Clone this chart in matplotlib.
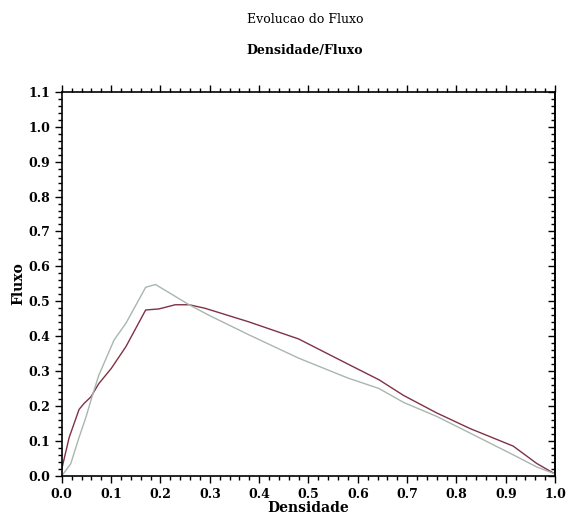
#!/usr/bin/env python3
"""Densidade x Fluxo - recreated from a scanned plot"""

import matplotlib
matplotlib.use('Agg')
import matplotlib.pyplot as plt
from matplotlib.ticker import MultipleLocator, FormatStrFormatter

# values
dens_red = [0.0, 0.015, 0.035, 0.045, 0.059, 0.075, 0.10, 0.13, 0.17, 0.197,
            0.23, 0.258, 0.29, 0.379, 0.48, 0.58, 0.643, 0.693, 0.76, 0.828,
            0.915, 0.963, 1.0]
fluxo_red = [0.02, 0.11, 0.19, 0.207, 0.226, 0.264, 0.307, 0.37, 0.475, 0.478,
             0.49, 0.49, 0.48, 0.441, 0.392, 0.32, 0.275, 0.23, 0.18, 0.135,
             0.085, 0.035, 0.005]

dens_gray = [0.0, 0.018, 0.035, 0.049, 0.062, 0.075, 0.106, 0.13, 0.17, 0.19,
             0.258, 0.298, 0.379, 0.48, 0.58, 0.643, 0.693, 0.76, 0.828,
             0.915, 0.963, 1.0]
fluxo_gray = [0.0, 0.034, 0.11, 0.168, 0.23, 0.288, 0.389, 0.437, 0.54, 0.548,
              0.49, 0.46, 0.404, 0.337, 0.28, 0.25, 0.21, 0.17, 0.122,
              0.06, 0.025, 0.005]

FONT = 'DejaVu Serif'

fig = plt.figure(figsize=(5.67, 5.16), dpi=100)
ax = fig.add_axes([0.109, 0.078, 0.870, 0.744])

ax.plot(dens_red, fluxo_red, color='#7e3246', lw=1.0)
ax.plot(dens_gray, fluxo_gray, color='#a9b6b0', lw=1.0)

ax.set_xlim(0, 1.0)
ax.set_ylim(0, 1.1)

ax.xaxis.set_major_locator(MultipleLocator(0.1))
ax.xaxis.set_minor_locator(MultipleLocator(0.02))
ax.yaxis.set_major_locator(MultipleLocator(0.1))
ax.yaxis.set_minor_locator(MultipleLocator(0.02))
ax.xaxis.set_major_formatter(FormatStrFormatter('%.1f'))
ax.yaxis.set_major_formatter(FormatStrFormatter('%.1f'))

ax.tick_params(axis='x', which='both', direction='out', top=True,
               labeltop=False, width=1.0)
ax.tick_params(axis='y', which='both', direction='out', right=False,
               width=1.0)
ax.tick_params(which='major', length=5, labelsize=9)
ax.tick_params(which='minor', length=3)

# right axis has inward ticks, no labels
sec = ax.secondary_yaxis('right')
sec.yaxis.set_major_locator(MultipleLocator(0.1))
sec.yaxis.set_minor_locator(MultipleLocator(0.02))
sec.tick_params(which='both', direction='in', labelright=False, width=1.0)
sec.tick_params(which='major', length=5)
sec.tick_params(which='minor', length=3)

for lab in ax.get_xticklabels() + ax.get_yticklabels():
    lab.set_fontfamily(FONT)
    lab.set_fontweight('bold')

for sp in ax.spines.values():
    sp.set_linewidth(1.2)
sec.spines['right'].set_linewidth(1.2)

ax.set_xlabel('Densidade', fontfamily=FONT, fontsize=10, fontweight='bold',
              labelpad=0)
ax.set_ylabel('Fluxo', fontfamily=FONT, fontsize=10, fontweight='bold',
              labelpad=2)

fig.text(0.538, 0.962, 'Evolucao do Fluxo', ha='center', va='center',
         fontfamily=FONT, fontsize=9)
fig.text(0.538, 0.903, 'Densidade/Fluxo', ha='center', va='center',
         fontfamily=FONT, fontsize=9, fontweight='bold')

fig.savefig('out.png', dpi=100)
